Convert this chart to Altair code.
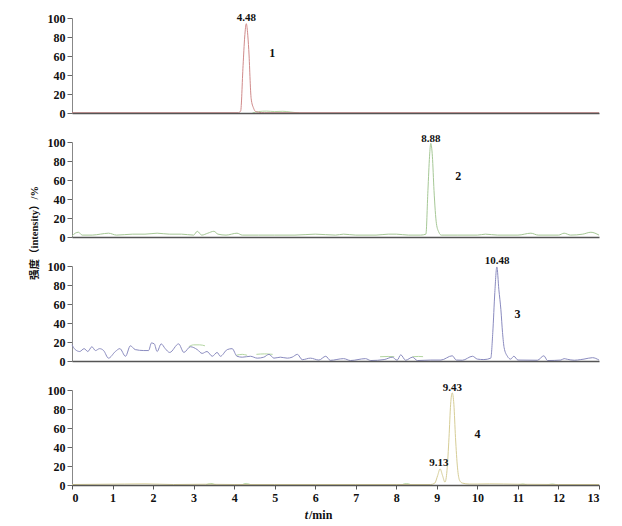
import altair as alt
import pandas as pd

# ---------------- data ----------------
# Panel 1 (peak 1, retention 4.48)
p1_t = [0, 4.10, 4.16, 4.22, 4.26, 4.30, 4.33, 4.36, 4.42, 4.48, 4.53, 4.60, 4.75, 13.0]
p1_v = [0.3, 0.3, 2, 50, 80, 94, 85, 67, 15, 5, 1.5, 0.8, 0.3, 0.3]
p1_ref_t = [4.45, 4.60, 4.80, 5.00, 5.20, 5.40, 5.60]
p1_ref_v = [0, 1.5, 2, 1.5, 1.8, 1, 0]
p1_ref_seg = [1, 1, 1, 1, 1, 1, 1]

# Panel 2 (peak 2, retention 8.88)
p2_t = [0, 0.08, 0.16, 0.25, 0.5, 0.7, 0.9, 1.1, 1.5, 1.8, 2.1, 2.4, 2.7, 3.0, 3.09, 3.2,
        3.35, 3.5, 3.6, 3.8, 4.07, 4.2, 4.6, 5.0, 5.5, 6.0, 6.5, 6.7, 7.0, 7.5, 7.8, 8.0,
        8.3, 8.6, 8.73, 8.78, 8.82, 8.85, 8.89, 8.93, 8.99, 9.05, 9.11, 9.2, 9.5, 10.0,
        10.2, 10.5, 11.0, 11.32, 11.5, 12.0, 12.14, 12.3, 12.6, 12.8, 13.0]
p2_v = [1, 4, 5, 2, 2, 3, 4, 2, 3, 3, 4, 3, 3, 2, 6, 2,
        4, 6, 3, 2, 4, 2, 2, 2, 2, 3, 2, 3, 2, 2, 3, 3,
        2, 2, 3, 49, 85, 98.6, 85, 49, 14, 5, 2, 2, 2, 2,
        3, 2, 2, 4, 2, 2, 4, 2, 3, 5, 2]

# Panel 3 (peak 3, retention 10.48)
p3_t = [0, 0.08, 0.19, 0.30, 0.39, 0.49, 0.58, 0.68, 0.78, 0.90, 1.07, 1.18, 1.32, 1.44,
        1.56, 1.77, 1.89, 1.96, 2.03, 2.10, 2.20, 2.30, 2.41, 2.63, 2.76, 2.92, 3.09,
        3.21, 3.33, 3.46, 3.58, 3.66, 3.83, 3.95, 4.07, 4.20, 4.40, 4.57, 4.73, 4.86,
        4.98, 5.14, 5.31, 5.43, 5.56, 5.68, 5.88, 6.09, 6.26, 6.37, 6.70, 6.87, 7.24,
        7.37, 7.70, 7.90, 8.02, 8.11, 8.23, 8.40, 8.52, 8.85, 9.10, 9.38, 9.48, 9.63,
        9.88, 10.00, 10.16, 10.33, 10.38, 10.43, 10.48, 10.53, 10.58, 10.62, 10.66,
        10.74, 10.82, 10.90, 11.00, 11.48, 11.64, 11.73, 12.06, 12.14, 12.22, 12.39,
        12.55, 12.63, 12.84, 13.00]
p3_v = [17, 12, 10, 13, 10, 15, 11, 13, 11, 3, 10, 13, 5, 16,
        12, 11, 11, 19, 18, 10, 18, 13, 9, 18, 9, 15, 12,
        8, 10, 5, 9, 5, 12, 13, 5, 4, 5, 3, 4, 7,
        3, 4, 3, 4, 7, 1.4, 3, 1, 5, 0.7, 2.5, 0.5, 2.5,
        0.5, 1.5, 4, 0.8, 6.5, 0.8, 4, 0.5, 1, 1, 5.5, 1, 0.8,
        5, 2, 1.5, 3, 30, 72, 99, 75, 54, 30, 14,
        5, 2, 5, 1, 0.8, 5.5, 0.5, 1, 2.5, 1.8, 0.8,
        1.5, 2, 3.5, 1]
p3_ref_t = [2.88, 3.00, 3.15, 3.28, 4.05, 4.20, 4.32, 4.55, 4.75, 4.95, 7.60, 7.80, 7.95, 8.40, 8.55, 8.66]
p3_ref_v = [15, 17, 17, 16, 6, 7, 6, 7, 7.5, 7, 4.5, 4.8, 4.5, 4.5, 4.8, 4.6]
p3_ref_seg = [1, 1, 1, 1, 2, 2, 2, 3, 3, 3, 4, 4, 4, 5, 5, 5]

# Panel 4 (peak 4, retention 9.43, shoulder 9.13)
p4_t = [0, 1.3, 1.8, 2.5, 3.3, 4.0, 5.0, 6.0, 7.0, 8.0, 8.85, 8.95, 9.02, 9.08, 9.14,
        9.20, 9.25, 9.30, 9.34, 9.38, 9.42, 9.46, 9.51, 9.56, 9.63, 9.80, 10.0, 10.3,
        11.0, 12.0, 13.0]
p4_v = [0.5, 1, 1.2, 0.5, 0.8, 0.5, 0.5, 0.5, 0.5, 0.5, 0.5, 2, 10, 17, 10,
        3, 15, 50, 85, 97, 85, 50, 18, 5, 2, 1, 1, 1.2,
        0.8, 0.5, 0.5]
p4_ref_t = [3.30, 3.42, 3.55, 4.18, 4.30, 4.42, 8.12, 8.25, 8.38, 11.02, 11.12, 11.22, 11.72, 11.85, 11.98]
p4_ref_v = [0, 1.6, 0, 0, 1.6, 0, 0, 1.5, 0, 0, 1, 0, 0, 1, 0]
p4_ref_seg = [1, 1, 1, 2, 2, 2, 3, 3, 3, 4, 4, 4, 5, 5, 5]

# Peak retention-time labels (x, y in data units, text)
lab1 = {"t": [4.30], "v": [100.5], "s": ["4.48"]}
lab2 = {"t": [8.85], "v": [103], "s": ["8.88"]}
lab3 = {"t": [10.49], "v": [105.5], "s": ["10.48"]}
lab4 = {"t": [9.38, 9.05], "v": [102.5, 23.5], "s": ["9.43", "9.13"]}

# Compound numbers
num1 = {"t": [4.94], "v": [63], "s": ["1"]}
num2 = {"t": [9.53], "v": [64], "s": ["2"]}
num3 = {"t": [10.99], "v": [50], "s": ["3"]}
num4 = {"t": [10.0], "v": [54], "s": ["4"]}

x_ticks = list(range(0, 14))
y_ticks = [0, 20, 40, 60, 80, 100]
y_title = "强度（intensity）/%"

# ---------------- styling ----------------
NUM_FONT = "Liberation Serif"
W, H = 527, 95


def panel(t, v, color, ref, labs, num, bottom=False, extra=None):
    xaxis = alt.Axis(
        values=x_ticks, title=None, grid=False, zindex=1,
        domainColor="#555555", domainWidth=1.6,
        labels=bottom, ticks=bottom, tickSize=4, tickColor="#555555",
        labelPadding=3, labelFont=NUM_FONT, labelFontSize=12,
        labelFontWeight="bold", labelColor="#111111",
    )
    yaxis = alt.Axis(
        values=y_ticks, title=None, grid=False,
        domainColor="#888888", domainWidth=1,
        tickSize=5, tickColor="#666666", labelPadding=2,
        labelFont=NUM_FONT, labelFontSize=12, labelFontWeight="bold",
        labelColor="#111111",
    )
    X = alt.X("t:Q", scale=alt.Scale(domain=[0, 13], nice=False), axis=xaxis)
    Y = alt.Y("v:Q", scale=alt.Scale(domain=[0, 100], nice=False), axis=yaxis)

    layers = []
    if ref is not None:
        rdf = pd.DataFrame({"t": ref[0], "v": ref[1], "seg": ref[2]})
        layers.append(
            alt.Chart(rdf).mark_line(color="#b4d6a2", strokeWidth=1, interpolate="monotone")
            .encode(x=X, y=Y, detail="seg:N")
        )
    mdf = pd.DataFrame({"t": t, "v": v})
    layers.append(
        alt.Chart(mdf).mark_line(color=color, strokeWidth=1, interpolate="monotone")
        .encode(x=X, y=Y)
    )
    layers.append(
        alt.Chart(pd.DataFrame(labs)).mark_text(
            font=NUM_FONT, fontSize=11, fontWeight="bold", color="#111111",
            baseline="middle", align="center")
        .encode(x=X, y=Y, text="s:N")
    )
    layers.append(
        alt.Chart(pd.DataFrame(num)).mark_text(
            font=NUM_FONT, fontSize=12, fontWeight="bold", color="#111111",
            baseline="middle", align="center")
        .encode(x=X, y=Y, text="s:N")
    )
    if extra:
        layers.extend(extra)
    return alt.layer(*layers).properties(width=W, height=H)


ytitle_layer = alt.Chart(pd.DataFrame({"s": [y_title]})).mark_text(
    angle=270, align="center", baseline="middle", fontSize=10.5, fontWeight="bold",
    font="Liberation Serif, Noto Sans CJK SC", color="#111111"
).encode(x=alt.value(-37), y=alt.value(91), text="s:N")

xt_df = pd.DataFrame({"a": ["t"], "b": ["/min"]})
xtitle_t = alt.Chart(xt_df).mark_text(
    align="right", baseline="middle", fontSize=12, fontWeight="bold",
    fontStyle="italic", font=NUM_FONT, color="#111111"
).encode(x=alt.value(236), y=alt.value(H + 30), text="a:N")
xtitle_min = alt.Chart(xt_df).mark_text(
    align="left", baseline="middle", fontSize=12, fontWeight="bold",
    font=NUM_FONT, color="#111111"
).encode(x=alt.value(237), y=alt.value(H + 30), text="b:N")

c1 = panel(p1_t, p1_v, "#d08a8a", (p1_ref_t, p1_ref_v, p1_ref_seg), lab1, num1)
c2 = panel(p2_t, p2_v, "#a6c896", None, lab2, num2, extra=[ytitle_layer])
c3 = panel(p3_t, p3_v, "#8a8bbf", (p3_ref_t, p3_ref_v, p3_ref_seg), lab3, num3)
c4 = panel(p4_t, p4_v, "#d6cd96", (p4_ref_t, p4_ref_v, p4_ref_seg), lab4, num4,
           bottom=True, extra=[xtitle_t, xtitle_min])

chart = alt.vconcat(c1, c2, c3, c4, spacing=29, bounds="flush").properties(
    padding={"left": 22, "top": 3, "right": 5, "bottom": 5}
).configure_view(stroke=None)

chart.save("out.html", embed_options={"renderer": "svg", "actions": False})
